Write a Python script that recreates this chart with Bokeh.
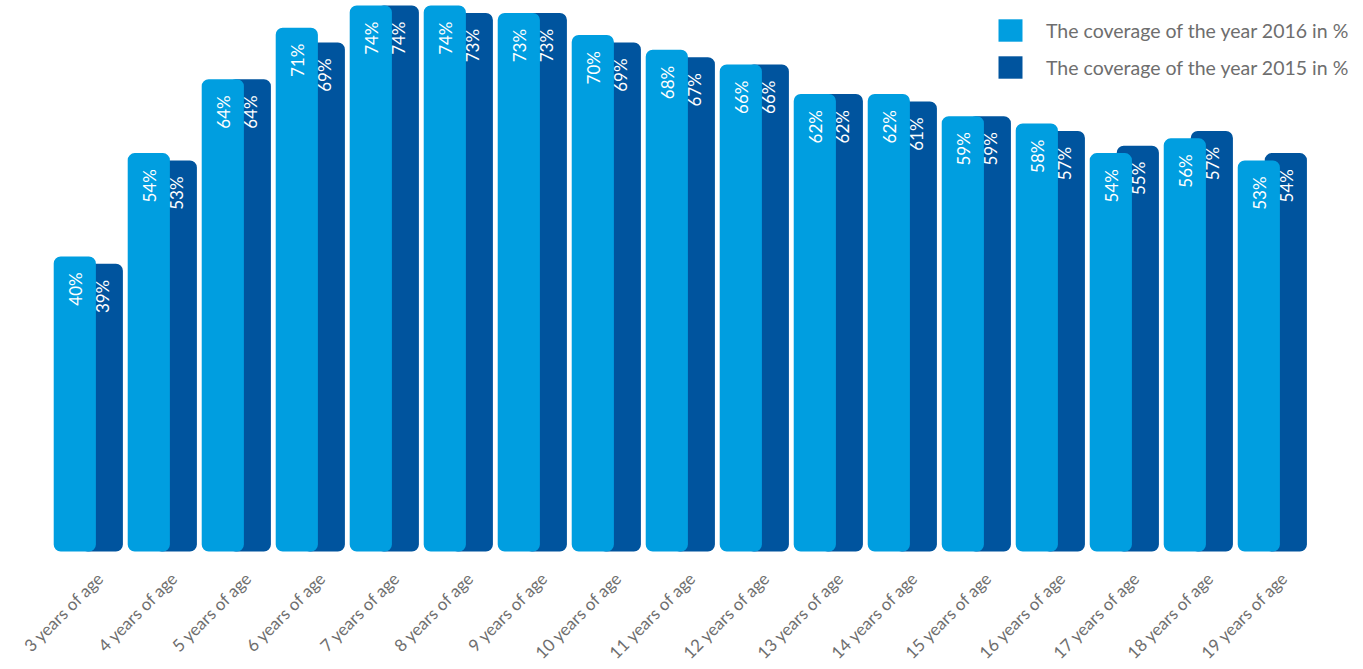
import math
from bokeh.plotting import figure
from bokeh.models import ColumnDataSource, FactorRange, Legend, LegendItem
from bokeh.transform import dodge
from bokeh.core.properties import value
from bokeh.embed import file_html
from bokeh.resources import INLINE

categories = ["3 years of age", "4 years of age", "5 years of age", "6 years of age",
              "7 years of age", "8 years of age", "9 years of age", "10 years of age",
              "11 years of age", "12 years of age", "13 years of age", "14 years of age",
              "15 years of age", "16 years of age", "17 years of age", "18 years of age",
              "19 years of age"]
cov_2016 = [40, 54, 64, 71, 74, 74, 73, 70, 68, 66, 62, 62, 59, 58, 54, 56, 53]
cov_2015 = [39, 53, 64, 69, 74, 73, 73, 69, 67, 66, 62, 61, 59, 57, 55, 57, 54]
series_names = ["The coverage of the year 2016 in %", "The coverage of the year 2015 in %"]

LIGHT = "#009ee0"
DARK = "#00549e"
FONT = "Lato"

src = ColumnDataSource(dict(
    cat=categories,
    zero=[0] * len(categories),
    v16=cov_2016,
    v15=cov_2015,
    t16=[f"{v}%" for v in cov_2016],
    t15=[f"{v}%" for v in cov_2015],
))

xr = FactorRange(*categories, range_padding=0.689, range_padding_units="absolute")
p = figure(width=1363, height=669, x_range=xr, y_range=(-15.99, 74.68),
           output_backend="svg", toolbar_location=None,
           min_border_left=0, min_border_right=3, min_border_top=0, min_border_bottom=0)

bw = 0.57
r15 = p.vbar(x=dodge("cat", 0.18, range=p.x_range), top="v15", bottom=0, width=bw,
             source=src, fill_color=DARK, line_color=None, border_radius=7)
r16 = p.vbar(x=dodge("cat", -0.185, range=p.x_range), top="v16", bottom=0, width=bw,
             source=src, fill_color=LIGHT, line_color=None, border_radius=7)

p.text(x=dodge("cat", 0.185, range=p.x_range), y="v15", text="t15", source=src,
       angle=math.pi / 2, text_align="right", text_baseline="middle",
       y_offset=16, text_color="white", text_font=value(FONT),
       text_font_size="17px")
p.text(x=dodge("cat", -0.18, range=p.x_range), y="v16", text="t16", source=src,
       angle=math.pi / 2, text_align="right", text_baseline="middle",
       y_offset=16, text_color="white", text_font=value(FONT),
       text_font_size="17px")

# category labels (rotated 45 degrees below each pair of bars)
p.text(x=dodge("cat", 0.06, range=p.x_range), y="zero", text="cat", source=src,
       angle=math.pi / 4, text_align="right", text_baseline="top",
       y_offset=16, text_color="#6e6e6e", text_font=value(FONT),
       text_font_size="17px")

p.xaxis.visible = False
p.yaxis.visible = False
p.xgrid.grid_line_color = None
p.ygrid.grid_line_color = None
p.outline_line_color = None

legend = Legend(items=[LegendItem(label=series_names[0], renderers=[r16]),
                       LegendItem(label=series_names[1], renderers=[r15])],
                location=(995, 588), padding=0, margin=0, spacing=9,
                glyph_width=30, glyph_height=28, label_standoff=21,
                label_text_font=FONT, label_text_font_size="19.5px",
                label_text_color="#6e6e6e", border_line_color=None,
                background_fill_alpha=0)
p.add_layout(legend)

open("out.html", "w").write(file_html(p, INLINE))
